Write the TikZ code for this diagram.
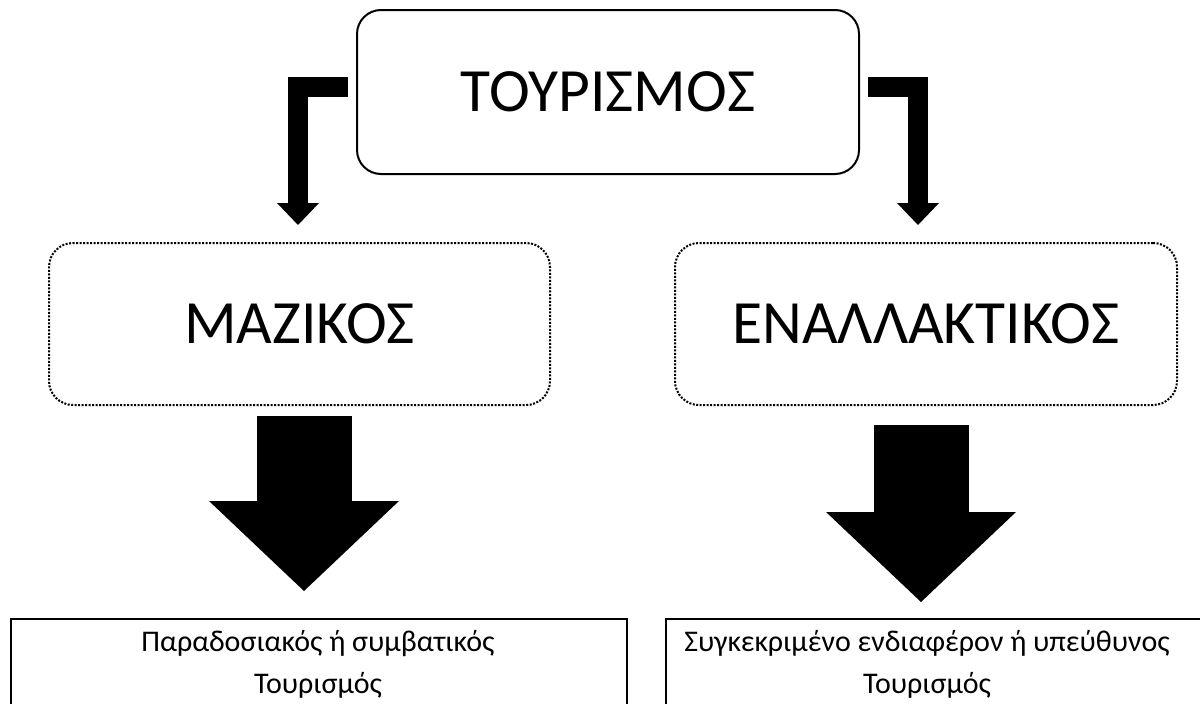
\documentclass[tikz,border=0pt]{standalone}
\usepackage{fontspec}
\setmainfont{Carlito}
\usetikzlibrary{arrows.meta}
\tikzset{
  x=1pt, y=-1pt,
  topbox/.style={draw, line width=2pt, rounded corners=24pt, inner sep=0pt,
    minimum width=502pt, minimum height=164pt, font=\fontsize{61.5}{72}\selectfont},
  dotbox/.style={draw, line width=2pt, dash pattern=on 2pt off 1.5pt, rounded corners=24pt,
    inner sep=0pt, minimum width=501pt, minimum height=162pt, font=\fontsize{61.5}{72}\selectfont},
  plainbox/.style={draw, line width=2.5pt, inner sep=0pt},
  lowtext/.style={align=center, inner sep=0pt, font=\fontsize{30}{42}\selectfont},
  elbow/.style={line width=20pt, line join=miter,
    -{Triangle[width=42pt,length=22pt,line width=0pt]}},
  bigarrow/.style={line width=95pt,
    -{Triangle[width=190pt,length=90pt,line width=0pt]}},
}
\begin{document}
\begin{tikzpicture}
\useasboundingbox (0,0) rectangle (1200,704);
\node[topbox] (top) at (608,92) {\raisebox{-3pt}{ΤΟΥΡΙΣΜΟΣ}};
\node[dotbox] (mass) at (299.5,324) {ΜΑΖΙΚΟΣ};
\node[dotbox, minimum width=502pt] (alt) at (926,324) {ΕΝΑΛΛΑΚΤΙΚΟΣ};
\node[plainbox, minimum width=616pt, minimum height=91pt] (massbox) at (319,664.5) {};
\node[plainbox, minimum width=544pt, minimum height=91pt] (altbox) at (938,664.5) {};
\node[lowtext] (masstext) at (318,664) {Παραδοσιακός ή συμβατικός\\Τουρισμός};
\node[lowtext] (alttext) at (927,664) {Συγκεκριμένο ενδιαφέρον ή υπεύθυνος\\Τουρισμός};
\coordinate (tipL) at (298,225);
\coordinate (tipR) at (918,225);
\coordinate (tipM) at (304,591);
\coordinate (tipA) at (921,602);
\draw[elbow] ([xshift=-8pt,yshift=5pt]top.west) -| (tipL);
\draw[elbow] ([xshift=8pt,yshift=5pt]top.east) -| (tipR);
\draw[bigarrow] ([xshift=4.5pt,yshift=-10pt]mass.south) -- (tipM);
\draw[bigarrow] ([xshift=-5pt,yshift=-19pt]alt.south) -- (tipA);
\end{tikzpicture}
\end{document}
